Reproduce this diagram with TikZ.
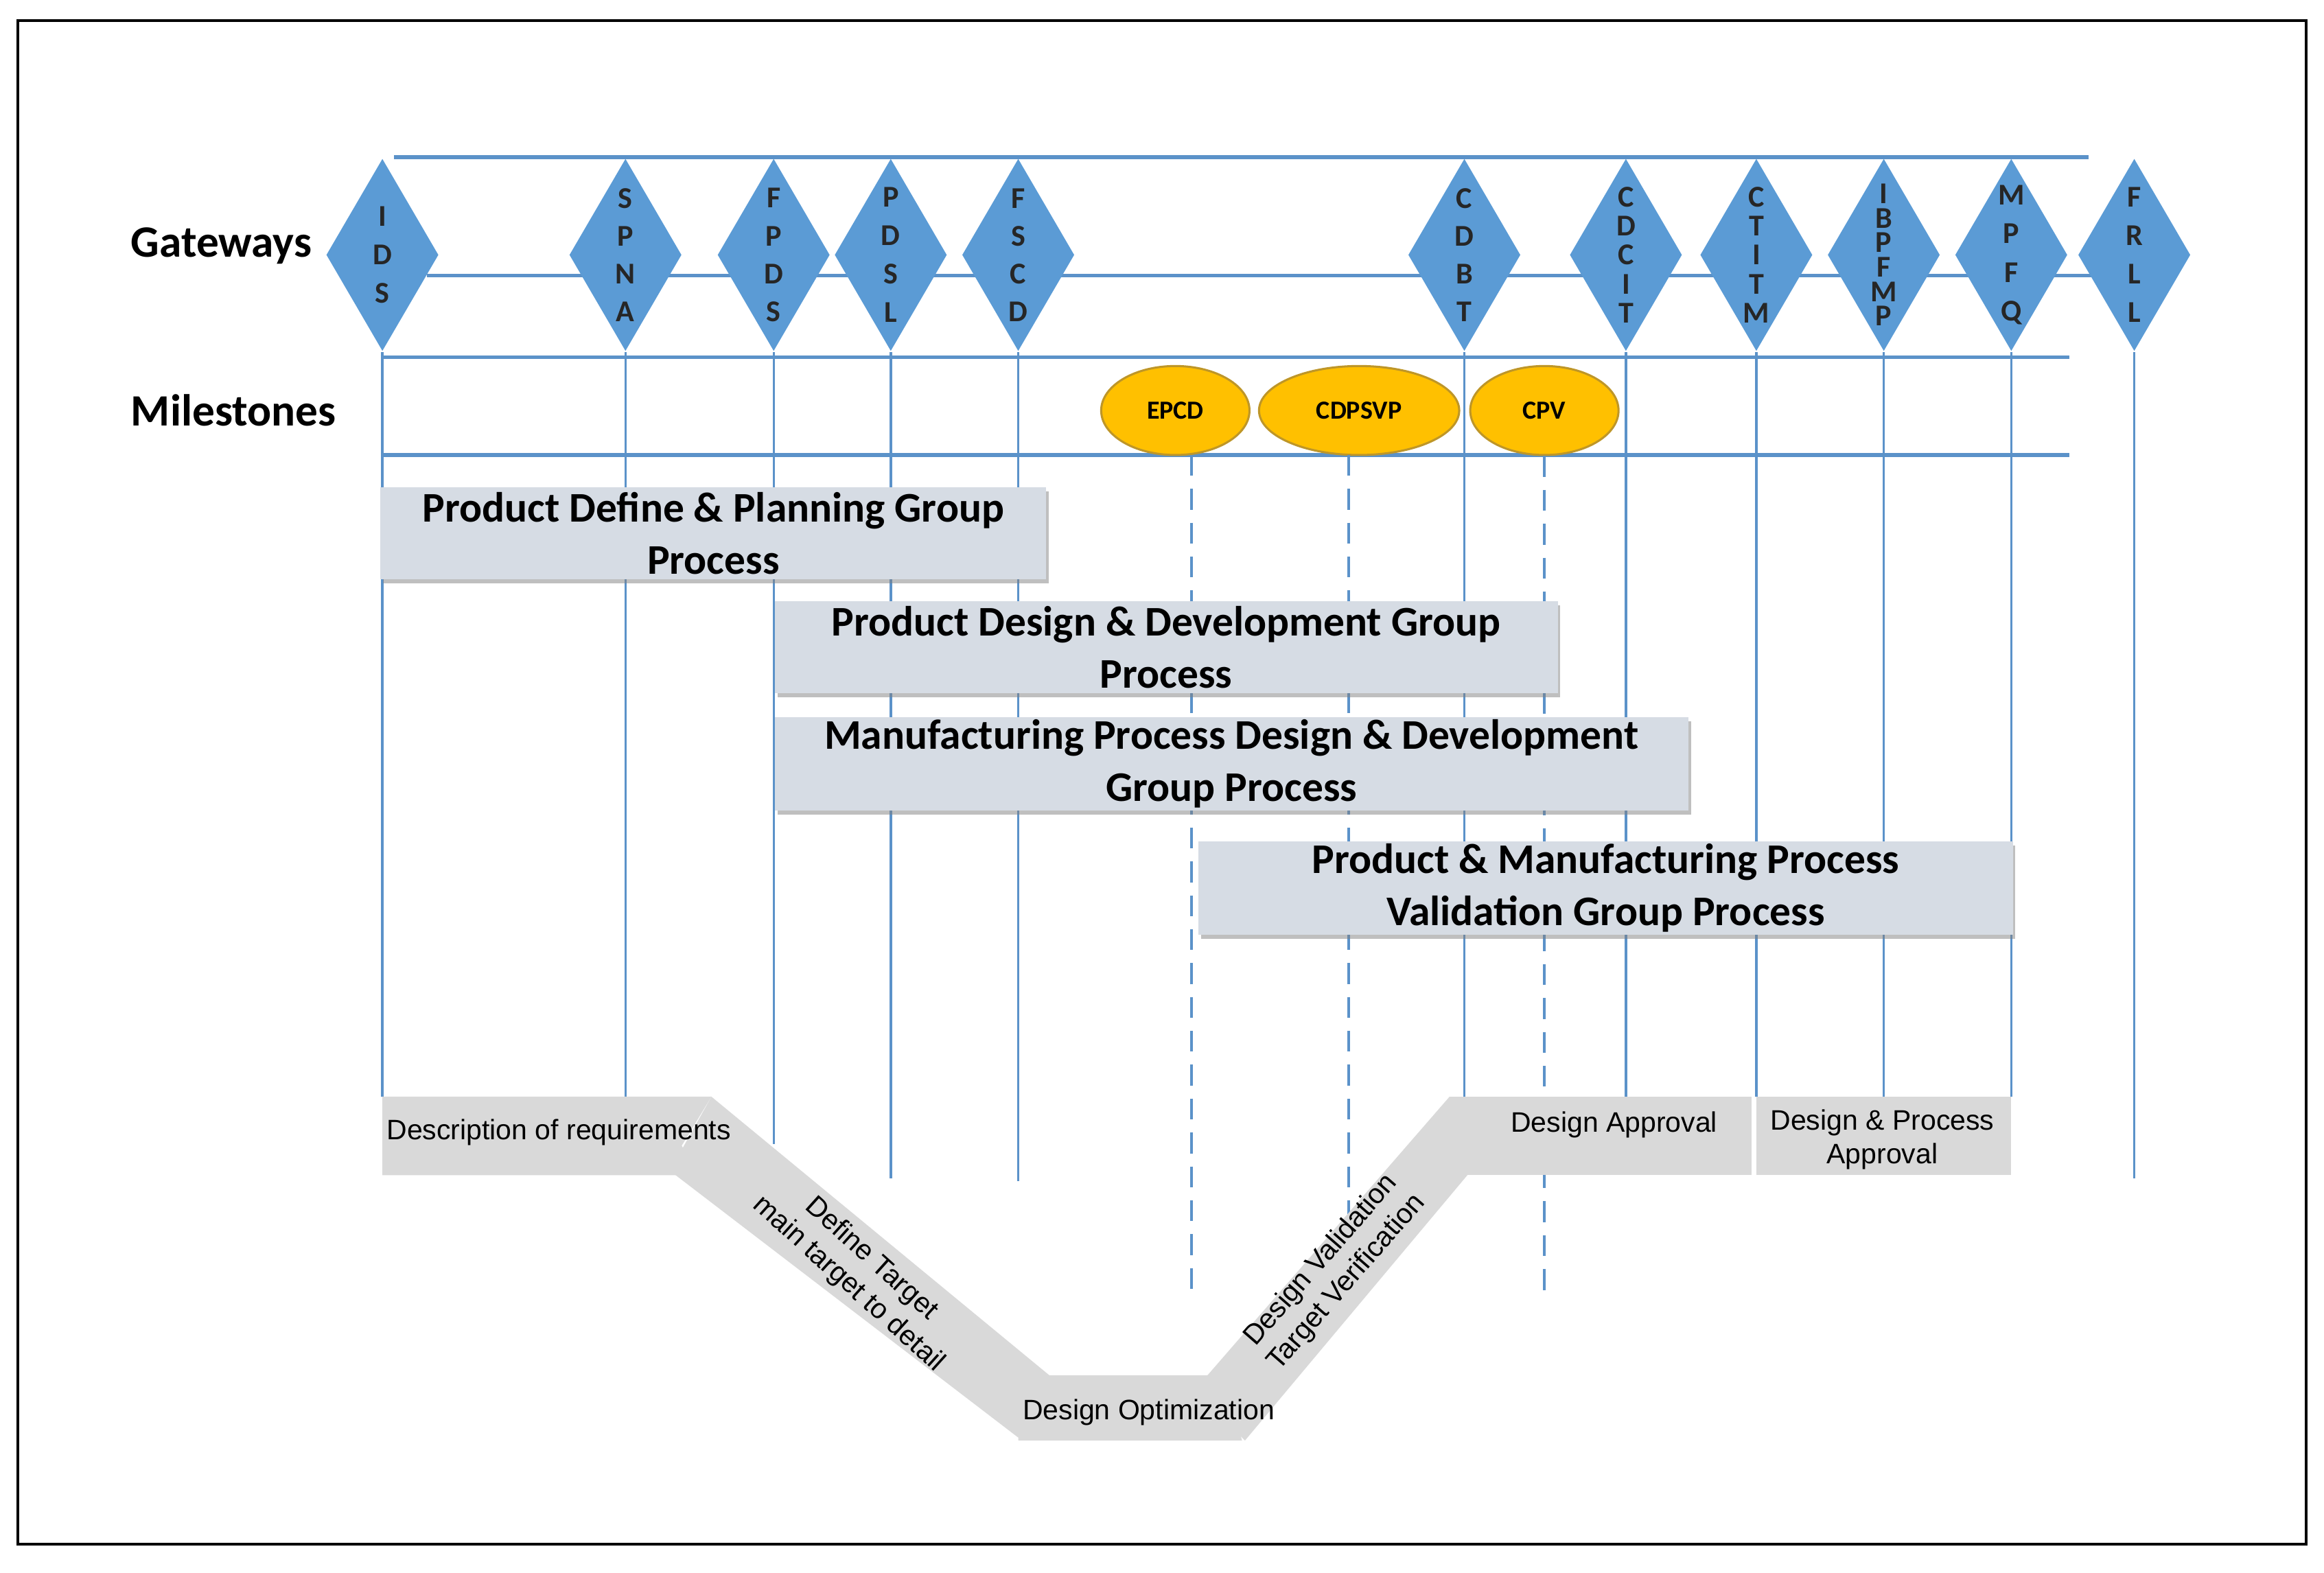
\documentclass[tikz,border=0pt]{standalone}
\usepackage{fontspec}
\setmainfont{Carlito}
\newfontfamily\arialf{Liberation Sans}
\usetikzlibrary{shapes.geometric,shadows}
\definecolor{ln}{RGB}{91,146,201}
\definecolor{dia}{RGB}{91,155,213}
\definecolor{ms}{RGB}{255,192,0}
\definecolor{msb}{RGB}{190,150,40}
\definecolor{grp}{RGB}{214,220,228}
\definecolor{vg}{RGB}{217,217,217}
\begin{document}
\begin{tikzpicture}[x=0.01cm,y=-0.01cm,
  hl/.style={draw=ln,line width=0.7pt},
  vl/.style={draw=ln,line width=0.45pt},
  dl/.style={draw=ln,line width=0.45pt,dash pattern=on 4pt off 2.5pt},
  gw/.style={diamond,fill=dia,draw=none,inner sep=0pt,minimum width=0.76cm,minimum height=1.3cm},
  gt/.style={font=\bfseries\fontsize{5.8}{#1}\selectfont,align=center,inner sep=0pt,text=black!85},
  ml/.style={ellipse,fill=ms,draw=msb,line width=0.4pt,minimum height=0.6cm,font=\bfseries\fontsize{5}{6}\selectfont},
  gp/.style={fill=grp,draw=none,inner sep=0pt,drop shadow={shadow xshift=0.5pt,shadow yshift=-0.8pt,opacity=0.5},align=center,font=\bfseries\fontsize{8.1}{10}\selectfont,anchor=north west},
  bt/.style={font=\arialf\fontsize{5.4}{6.5}\selectfont,align=center,inner sep=0pt},
  hd/.style={font=\bfseries\fontsize{8.6}{10}\selectfont,anchor=west}]
\useasboundingbox (0,0) rectangle (1568,1061);
\draw[line width=0.6pt] (12,14) rectangle (1556,1042);
% horizontal lines
\draw[hl] (266,106) -- (1409,106);
\draw[hl] (288,186) -- (1415,186);
\draw[hl] (257,241) -- (1396,241);
\draw[hl] (257,307) -- (1396,307);
\node[hd] (gwl) at (76,166) {Gateways};
\node[hd] (mll) at (76,277) {Milestones};
% gateways
\foreach \n/\x/\t/\s/\e in {ids/258/I\\D\\S/7.4/740, spna/422/S\\P\\N\\A/7.25/740, fpds/522/F\\P\\D\\S/7.25/772, pdsl/601/P\\D\\S\\L/7.4/795, fscd/687/F\\S\\C\\D/7.25/797, cdbt/988/C\\D\\B\\T/7.25/740, cdcit/1097/C\\D\\C\\I\\T/5.55/740, ctitm/1185/C\\T\\I\\T\\M/5.55/740, ibpfmp/1271/I\\B\\P\\F\\M\\P/4.7/740, mpfq/1357/M\\P\\F\\Q/7.4/740, frll/1440/F\\R\\L\\L/7.4/795}{
  \node[gw] (\n) at (\x,172) {};
  \node[gt=\s] (\n t) at (\x,172) {\t};
  \coordinate (\n e) at (\x,\e);
  \draw[vl] (\n.south) -- (\n e);
}
% milestones
\node[ml,minimum width=1.0cm] (epcd) at (793,277) {EPCD};
\node[ml,minimum width=1.35cm] (cdpsvp) at (917,277) {CDPSVP};
\node[ml,minimum width=1.0cm] (cpv) at (1042,277) {CPV};
\coordinate (e1) at (804,875); \coordinate (e2) at (910,875); \coordinate (e3) at (1042,878);
\draw[dl] (804,307) -- (e1);
\draw[dl] (910,307) -- (e2);
\draw[dl] (cpv.south) -- (e3);
% group processes
\node[gp,minimum width=4.49cm,minimum height=0.62cm] (g1) at (256,328) {Product Define \& Planning Group\\Process};
\node[gp,minimum width=5.28cm,minimum height=0.62cm] (g2) at (522,405) {Product Design \& Development Group\\Process};
\node[gp,minimum width=6.16cm,minimum height=0.63cm] (g3) at (522,483) {Manufacturing Process Design \& Development\\Group Process};
\node[gp,minimum width=5.49cm,minimum height=0.63cm] (g4) at (808,567) {Product \& Manufacturing Process\\Validation Group Process};
% V shape
\fill[vg] (480,740) -- (708,928) -- (687,970) -- (452,790) -- cycle;
\fill[vg] (806,938) -- (978,740) -- (990,793) -- (840,972) -- cycle;
\fill[vg] (258,740) -- (480,740) -- (460,773) -- (470,793) -- (258,793) -- cycle;
\fill[vg] (687,928) -- (826,928) -- (838,972) -- (687,972) -- cycle;
\fill[vg] (978,740) rectangle (1182,793);
\fill[vg] (1185,740) rectangle (1357,793);
\node[bt] (dr) at (377,764) {Description of requirements};
\node[bt,rotate=-42] (dt) at (580,858) {Define Target\\main target to detail};
\node[bt] (dop) at (775,953) {Design Optimization};
\node[bt,rotate=49] (dv) at (900,858) {Design Validation\\Target Verification};
\node[bt] (da) at (1089,759) {Design Approval};
\node[bt] (dpa) at (1270,769) {Design \& Process\\Approval};
\end{tikzpicture}
\end{document}
